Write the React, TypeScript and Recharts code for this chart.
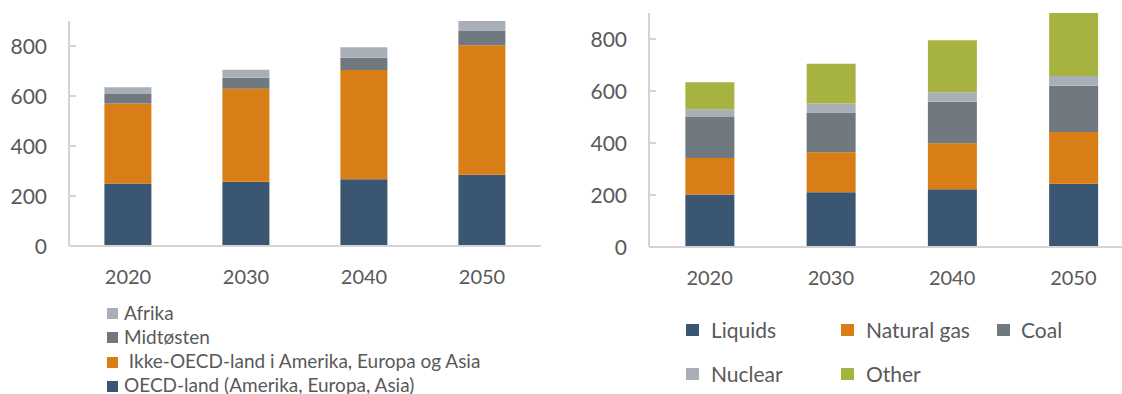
import React from 'react';
import { BarChart, Bar, XAxis, YAxis } from 'recharts';

const years = ['2020', '2030', '2040', '2050'];

// Left chart (regions)
const oecdLand = [250, 257, 267, 285];
const ikkeOecd = [320, 372, 437, 518];
const midtosten = [38, 44, 49, 57];
const afrika = [27, 32, 42, 40];

// Right chart (fuels)
const liquids = [202, 211, 222, 243];
const naturalGas = [140, 153, 177, 199];
const coal = [158, 153, 160, 178];
const nuclear = [30, 35, 36, 38];
const other = [104, 153, 200, 242];

const yTicks = [0, 200, 400, 600, 800];

const C_BLUE = '#3a5673';
const C_ORANGE = '#d97e17';
const C_DGRAY = '#707880';
const C_LGRAY = '#a9afb6';
const C_GREEN = '#a7b340';
const TEXT = '#595959';
const AXIS = '#d4d4d4';
const FONT = 'Lato, "Noto Sans", sans-serif';

const leftData = years.map((y, i) => ({
  year: y,
  oecd: oecdLand[i],
  ikke: ikkeOecd[i],
  midt: midtosten[i],
  afrika: afrika[i],
}));

const rightData = years.map((y, i) => ({
  year: y,
  liquids: liquids[i],
  gas: naturalGas[i],
  coal: coal[i],
  nuclear: nuclear[i],
  other: other[i],
}));

const YTick = (props: any) => {
  const { x, y, payload } = props;
  return (
    <g>
      <line x1={x} x2={x + 7} y1={y} y2={y} stroke={AXIS} strokeWidth={2} />
      <text x={x - 22} y={y} dy="0.36em" textAnchor="end" fill={TEXT} fontSize={21} fontFamily={FONT}>
        {payload.value}
      </text>
    </g>
  );
};

const XTick = (props: any) => {
  const { x, y, payload } = props;
  return (
    <text x={x} y={y} dy="0.71em" textAnchor="middle" fill={TEXT} fontSize={20} fontFamily={FONT}>
      {payload.value}
    </text>
  );
};

const Swatch = ({ left, top, size, color }: any) => (
  <div style={{ position: 'absolute', left, top: top - size / 2, width: size, height: size, background: color }} />
);

const Label = ({ left, top, size, text }: any) => (
  <div
    style={{
      position: 'absolute',
      left,
      top: top - size * 0.62,
      fontSize: size,
      lineHeight: `${size * 1.2}px`,
      color: TEXT,
      fontFamily: FONT,
      whiteSpace: 'pre',
    }}
  >
    {text}
  </div>
);

const leftLegend = [
  { text: 'Afrika', color: C_LGRAY, y: 313.5, x: 124 },
  { text: 'Midtøsten', color: C_DGRAY, y: 337.5, x: 124 },
  { text: ' Ikke-OECD-land i Amerika, Europa og Asia', color: C_ORANGE, y: 362, x: 124 },
  { text: 'OECD-land (Amerika, Europa, Asia)', color: C_BLUE, y: 386, x: 124 },
];

const rightLegend = [
  { text: 'Liquids', color: C_BLUE, sx: 686, tx: 711, y: 330 },
  { text: 'Natural gas', color: C_ORANGE, sx: 841, tx: 866, y: 330 },
  { text: 'Coal', color: C_DGRAY, sx: 997, tx: 1021, y: 330 },
  { text: 'Nuclear', color: C_LGRAY, sx: 686, tx: 711, y: 374 },
  { text: 'Other', color: C_GREEN, sx: 841, tx: 866, y: 374 },
];

export default function App() {
  return (
    <div
      style={{
        position: 'fixed',
        left: 0,
        top: 0,
        width: 1122,
        height: 394,
        overflow: 'hidden',
        background: '#ffffff',
        fontFamily: FONT,
      }}
    >
      <div style={{ position: 'absolute', left: 0, top: 0 }}>
        <BarChart
          width={560}
          height={300}
          data={leftData}
          margin={{ top: 21, right: 19, bottom: 24, left: 0 }}
          barCategoryGap="30%"
        >
          <XAxis
            dataKey="year"
            axisLine={{ stroke: AXIS, strokeWidth: 2 }}
            tickLine={false}
            tickSize={0}
            tickMargin={24}
            height={30}
            tick={<XTick />}
          />
          <YAxis
            width={69}
            domain={[0, 900]}
            ticks={yTicks}
            allowDataOverflow
            axisLine={{ stroke: AXIS, strokeWidth: 2 }}
            tickLine={false}
            tickSize={0}
            tickMargin={0}
            tick={<YTick />}
            interval={0}
          />
          <Bar dataKey="oecd" stackId="a" fill={C_BLUE} isAnimationActive={false} />
          <Bar dataKey="ikke" stackId="a" fill={C_ORANGE} isAnimationActive={false} />
          <Bar dataKey="midt" stackId="a" fill={C_DGRAY} isAnimationActive={false} />
          <Bar dataKey="afrika" stackId="a" fill={C_LGRAY} isAnimationActive={false} />
        </BarChart>
      </div>

      <div style={{ position: 'absolute', left: 580, top: 0 }}>
        <BarChart
          width={554}
          height={300}
          data={rightData}
          margin={{ top: 13, right: 0, bottom: 23, left: 0 }}
          barCategoryGap="30%"
        >
          <XAxis
            dataKey="year"
            axisLine={{ stroke: AXIS, strokeWidth: 2 }}
            tickLine={false}
            tickSize={0}
            tickMargin={24}
            height={30}
            tick={<XTick />}
          />
          <YAxis
            width={69}
            domain={[0, 900]}
            ticks={yTicks}
            allowDataOverflow
            axisLine={{ stroke: AXIS, strokeWidth: 2 }}
            tickLine={false}
            tickSize={0}
            tickMargin={0}
            tick={<YTick />}
            interval={0}
          />
          <Bar dataKey="liquids" stackId="b" fill={C_BLUE} isAnimationActive={false} />
          <Bar dataKey="gas" stackId="b" fill={C_ORANGE} isAnimationActive={false} />
          <Bar dataKey="coal" stackId="b" fill={C_DGRAY} isAnimationActive={false} />
          <Bar dataKey="nuclear" stackId="b" fill={C_LGRAY} isAnimationActive={false} />
          <Bar dataKey="other" stackId="b" fill={C_GREEN} isAnimationActive={false} />
        </BarChart>
      </div>

      {leftLegend.map((it) => (
        <React.Fragment key={it.text}>
          <Swatch left={107} top={it.y} size={11} color={it.color} />
          <Label left={it.x} top={it.y} size={19} text={it.text} />
        </React.Fragment>
      ))}

      {rightLegend.map((it) => (
        <React.Fragment key={it.text}>
          <Swatch left={it.sx} top={it.y} size={12.5} color={it.color} />
          <Label left={it.tx} top={it.y} size={21} text={it.text} />
        </React.Fragment>
      ))}
    </div>
  );
}
